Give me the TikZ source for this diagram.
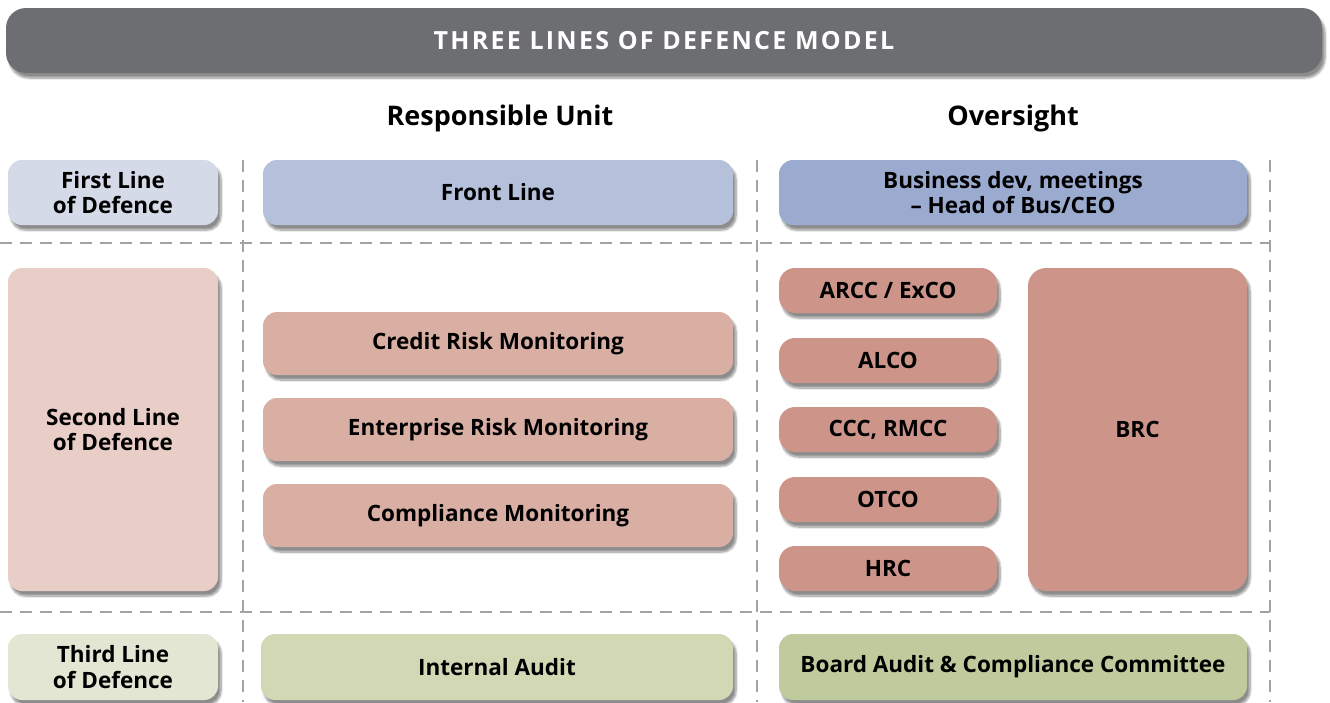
\documentclass[tikz,border=0pt]{standalone}
\usepackage{fontspec}
\setmainfont{Open Sans}
\usetikzlibrary{shadows.blur}
\definecolor{titlegrey}{HTML}{6D6E71}
\definecolor{gridgrey}{HTML}{A3A3A3}
\definecolor{firstlabel}{HTML}{D5DAE8}
\definecolor{firstunit}{HTML}{B5C0DA}
\definecolor{firstover}{HTML}{9BAACF}
\definecolor{secondlabel}{HTML}{E8CEC6}
\definecolor{secondunit}{HTML}{D9AFA4}
\definecolor{secondover}{HTML}{CD958A}
\definecolor{thirdlabel}{HTML}{E3E6D3}
\definecolor{thirdunit}{HTML}{D2D7B4}
\definecolor{thirdover}{HTML}{BFCB9D}

\begin{document}
\begin{tikzpicture}[x=1pt,y=-1pt,
        box/.style={rounded corners=14pt,align=center,inner sep=0pt,
          font=\bfseries\fontsize{22.5}{25.5}\selectfont,
          blur shadow={shadow xshift=3pt,shadow yshift=-5pt,shadow blur steps=8,shadow opacity=45}},
        smallbox/.style={box,fill=secondover,minimum width=218,minimum height=45,rounded corners=16pt},
        header/.style={font=\bfseries\fontsize{27}{30}\selectfont},
        grid/.style={draw=gridgrey,line width=1.3pt,dash pattern=on 12pt off 8pt}]
    \useasboundingbox (0,0) rectangle (1330,702);
    \draw[grid] (0,243) -- (1270,243);
    \draw[grid] (0,612) -- (1270,612);
    \foreach \gx in {243,757,1270}
      \draw[grid] (\gx,160) -- (\gx,702);
    \node[box,fill=titlegrey,text=white,minimum width=1316,minimum height=65,rounded corners=20pt,
          font=\bfseries\fontsize{25}{28}\addfontfeature{LetterSpace=9}\selectfont] (title) at (664,40.5) {THREE LINES OF DEFENCE MODEL};
    \node[header] (hdrunit) at (500,118) {Responsible Unit};
    \node[header] (hdroversight) at (1013,118) {Oversight};
    \node[box,fill=firstlabel,minimum width=210,minimum height=65] (firstline) at (113,192.5) {First Line\\of Defence};
    \node[box,fill=firstunit,minimum width=470,minimum height=65] (frontline) at (498,192.5) {Front Line};
    \node[box,fill=firstover,minimum width=468,minimum height=65] (busdev) at (1013,192.5) {Business dev, meetings\\– Head of Bus/CEO};
    \node[box,fill=secondlabel,minimum width=210,minimum height=323] (secondline) at (113,429.5) {Second Line\\of Defence};
    \node[box,fill=secondunit,minimum width=470,minimum height=63] (credit) at (498,343.5) {Credit Risk Monitoring};
    \node[box,fill=secondunit,minimum width=470,minimum height=63] (enterprise) at (498,429.5) {Enterprise Risk Monitoring};
    \node[box,fill=secondunit,minimum width=470,minimum height=63] (compliance) at (498,515.5) {Compliance Monitoring};
    \node[smallbox] (arcc) at (888,290.5) {ARCC / ExCO};
    \node[smallbox] (alco) at (888,360.5) {ALCO};
    \node[smallbox] (ccc) at (888,429.5) {CCC, RMCC};
    \node[smallbox] (otco) at (888,499.5) {OTCO};
    \node[smallbox] (hrc) at (888,568.5) {HRC};
    \node[box,fill=secondover,minimum width=219,minimum height=323,rounded corners=18pt] (brc) at (1137.5,429.5) {BRC};
    \node[box,fill=thirdlabel,minimum width=210,minimum height=66] (thirdline) at (113,667) {Third Line\\of Defence};
    \node[box,fill=thirdunit,minimum width=472,minimum height=66] (audit) at (497,667) {Internal Audit};
    \node[box,fill=thirdover,minimum width=468,minimum height=66] (bacc) at (1013,667) {Board Audit \& Compliance Committee};
\end{tikzpicture}
\end{document}
